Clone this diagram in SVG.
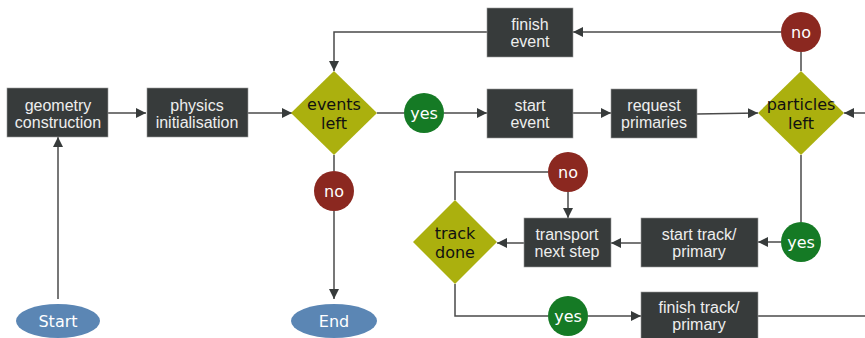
<svg xmlns="http://www.w3.org/2000/svg" width="865" height="338" viewBox="0 0 865 338">
<defs>
<marker id="ah" markerWidth="10" markerHeight="10" refX="10" refY="5" orient="auto" markerUnits="userSpaceOnUse">
<path d="M0,0 L10,5 L0,10 Z" fill="#373b3b"/>
</marker>
<style>
.box{fill:#373b3b;stroke:#9a9a9a;stroke-width:0.6}
.dia{fill:#abb00e}
.yes{fill:#157a25}
.no{fill:#8b2820}
.term{fill:#5b86b4}
.bt{font-family:"Liberation Sans",Arial,sans-serif;font-size:16px;fill:#eeeeee;text-anchor:middle}
.dt{font-family:"DejaVu Sans",sans-serif;font-size:16px;fill:#111111;text-anchor:middle}
.ct{font-family:"DejaVu Sans",sans-serif;font-size:16px;fill:#ffffff;text-anchor:middle}
.c{fill:none;stroke:#4a4a4a;stroke-width:1.5}
.a{fill:none;stroke:#4a4a4a;stroke-width:1.5;marker-end:url(#ah)}
</style>
</defs>
<rect width="865" height="338" fill="#ffffff"/>
<g id="connectors">
<path class="a" d="M58,299 L58,137"/>
<path class="a" d="M108,113 L146,113"/>
<path class="a" d="M248,113 L292,113"/>
<path class="c" d="M377,113 L404,113"/>
<path class="a" d="M444,113 L487,113"/>
<path class="a" d="M573,113 L611,113"/>
<path class="a" d="M697,114 L758,113"/>
<path class="a" d="M865,113 L844,113"/>
<path class="c" d="M801,71 L801,52"/>
<path class="a" d="M781,32 L573,32"/>
<path class="a" d="M487,32 L334,32 L334,71"/>
<path class="c" d="M334,155 L334,171"/>
<path class="a" d="M334,211 L334,299"/>
<path class="c" d="M801,155 L801,222"/>
<path class="a" d="M781,242 L758,242"/>
<path class="a" d="M641,243 L611,243"/>
<path class="a" d="M524,243 L497,243"/>
<path class="c" d="M455,200 L455,172 L548,172"/>
<path class="a" d="M568,192 L568,218"/>
<path class="c" d="M455,284 L455,316 L548,316"/>
<path class="a" d="M588,316 L641,316"/>
<path class="c" d="M758,316 L865,316"/>
</g>
<g id="start"><ellipse class="term" cx="58" cy="321" rx="42" ry="17"/><text class="ct" x="58" y="327">Start</text></g>
<g id="geometry"><rect class="box" x="7" y="88" width="101" height="49"/><text class="bt" x="58" y="111">geometry</text><text class="bt" x="58" y="128">construction</text></g>
<g id="physics"><rect class="box" x="147" y="88" width="101" height="49"/><text class="bt" x="197" y="111">physics</text><text class="bt" x="197" y="128">initialisation</text></g>
<g id="events-left"><path class="dia" d="M334,71 L377,113 L334,155 L291,113 Z"/><text class="dt" x="334" y="109.5">events</text><text class="dt" x="334" y="128.5">left</text></g>
<g id="yes-events"><circle class="yes" cx="424" cy="113" r="20"/><text class="ct" x="424" y="119">yes</text></g>
<g id="no-events"><circle class="no" cx="334" cy="191" r="20"/><text class="ct" x="334" y="197">no</text></g>
<g id="end"><ellipse class="term" cx="334" cy="321" rx="43" ry="17"/><text class="ct" x="334" y="327">End</text></g>
<g id="finish-event"><rect class="box" x="487" y="8" width="86" height="49"/><text class="bt" x="530" y="30">finish</text><text class="bt" x="530" y="47">event</text></g>
<g id="start-event"><rect class="box" x="487" y="89" width="86" height="49"/><text class="bt" x="530" y="111">start</text><text class="bt" x="530" y="128">event</text></g>
<g id="request-primaries"><rect class="box" x="611" y="89" width="86" height="49"/><text class="bt" x="654" y="111">request</text><text class="bt" x="654" y="128">primaries</text></g>
<g id="particles-left"><path class="dia" d="M801,71 L844,113 L801,155 L758,113 Z"/><text class="dt" x="801" y="109.5">particles</text><text class="dt" x="801" y="128.5">left</text></g>
<g id="no-particles"><circle class="no" cx="801" cy="32" r="20"/><text class="ct" x="801" y="38">no</text></g>
<g id="yes-particles"><circle class="yes" cx="801" cy="242" r="20"/><text class="ct" x="801" y="248">yes</text></g>
<g id="start-track"><rect class="box" x="641" y="218" width="117" height="49"/><text class="bt" x="699" y="240">start track/</text><text class="bt" x="699" y="257">primary</text></g>
<g id="transport"><rect class="box" x="524" y="218" width="87" height="49"/><text class="bt" x="567" y="240">transport</text><text class="bt" x="567" y="257">next step</text></g>
<g id="track-done"><path class="dia" d="M455,200 L497,242 L455,284 L413,242 Z"/><text class="dt" x="455" y="238.5">track</text><text class="dt" x="455" y="257.5">done</text></g>
<g id="no-track"><circle class="no" cx="568" cy="172" r="20"/><text class="ct" x="568" y="178">no</text></g>
<g id="yes-track"><circle class="yes" cx="568" cy="316" r="20"/><text class="ct" x="568" y="322">yes</text></g>
<g id="finish-track"><rect class="box" x="641" y="292" width="117" height="49"/><text class="bt" x="699" y="313">finish track/</text><text class="bt" x="699" y="330">primary</text></g>
</svg>
